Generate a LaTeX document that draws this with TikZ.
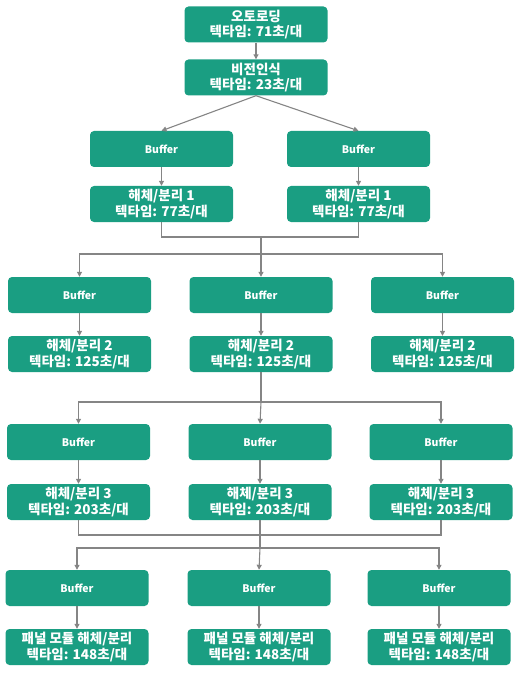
\documentclass[tikz,border=0pt]{standalone}
\usepackage{fontspec}
\setmainfont{Noto Sans CJK KR}
\usetikzlibrary{arrows.meta}
\definecolor{boxgreen}{HTML}{1A9E82}
\definecolor{linegray}{HTML}{858585}

\begin{document}
\begin{tikzpicture}[x=1pt,y=-1pt]

    \tikzset{stepbox/.style={fill=boxgreen,rounded corners=4pt,minimum width=143pt,minimum height=36pt,inner sep=0pt,text=white,align=center,font=\bfseries\fontsize{13.5}{15.5}\selectfont}}
    \tikzset{bufbox/.style={stepbox,font=\bfseries\fontsize{10.5}{12}\selectfont}}
    \useasboundingbox (0,0) rectangle (527,676);

    \node[stepbox] (load) at (256, 24.5) {오토로딩\\텍타임: 71초/대};
    \node[stepbox] (vision) at (256, 77.5) {비전인식\\텍타임: 23초/대};

    \node[bufbox] (b1a) at (161.5, 149) {Buffer};
    \node[bufbox] (b1b) at (358.5, 149) {Buffer};
    \node[stepbox] (d1a) at (161.5, 204) {해체/분리 1\\텍타임: 77초/대};
    \node[stepbox] (d1b) at (358.5, 204) {해체/분리 1\\텍타임: 77초/대};

    \node[bufbox] (b2a) at ( 79.5, 295) {Buffer};
    \node[bufbox] (b2b) at (261, 295) {Buffer};
    \node[bufbox] (b2c) at (442.5, 295) {Buffer};
    \node[stepbox] (d2a) at ( 79.5, 354) {해체/분리 2\\텍타임: 125초/대};
    \node[stepbox] (d2b) at (261, 354) {해체/분리 2\\텍타임: 125초/대};
    \node[stepbox] (d2c) at (442.5, 354) {해체/분리 2\\텍타임: 125초/대};

    \node[bufbox] (b3a) at ( 78.5, 442) {Buffer};
    \node[bufbox] (b3b) at (260, 442) {Buffer};
    \node[bufbox] (b3c) at (441, 442) {Buffer};
    \node[stepbox] (d3a) at ( 78.5, 502) {해체/분리 3\\텍타임: 203초/대};
    \node[stepbox] (d3b) at (260, 502) {해체/분리 3\\텍타임: 203초/대};
    \node[stepbox] (d3c) at (441, 502) {해체/분리 3\\텍타임: 203초/대};

    \node[bufbox] (b4a) at ( 77, 588) {Buffer};
    \node[bufbox] (b4b) at (259, 588) {Buffer};
    \node[bufbox] (b4c) at (439, 588) {Buffer};
    \node[stepbox] (d4a) at ( 77, 647) {패널 모듈 해체/분리\\텍타임: 148초/대};
    \node[stepbox] (d4b) at (259, 647) {패널 모듈 해체/분리\\텍타임: 148초/대};
    \node[stepbox] (d4c) at (439, 647) {패널 모듈 해체/분리\\텍타임: 148초/대};

    % Nodos artificiales.
    \coordinate (j1) at (261, 237);
    \coordinate (s1) at (261, 254);
    \coordinate (s2) at (261, 402);
    \coordinate (j3) at (260, 535);
    \coordinate (s3) at (260, 548);

    \begin{scope}[every path/.style={draw=linegray,line width=1.1pt}]
        \draw[-{Triangle[width=5pt,length=5pt]}] (load) -- (vision);
        \draw[-{Triangle[width=5pt,length=5pt]}] (vision.south) -- (b1a.north);
        \draw[-{Triangle[width=5pt,length=5pt]}] (vision.south) -- (b1b.north);
        \draw[-{Triangle[width=5pt,length=5pt]}] (b1a) -- (d1a);
        \draw[-{Triangle[width=5pt,length=5pt]}] (b1b) -- (d1b);

        \draw (d1a.south) |- (j1);
        \draw (d1b.south) |- (j1);
        \draw (j1) -- (s1);
        \draw[-{Triangle[width=5pt,length=5pt]}] (s1) -| (b2a.north);
        \draw[-{Triangle[width=5pt,length=5pt]}] (s1) -- (b2b.north);
        \draw[-{Triangle[width=5pt,length=5pt]}] (s1) -| (b2c.north);
        \draw[-{Triangle[width=5pt,length=5pt]}] (b2a) -- (d2a);
        \draw[-{Triangle[width=5pt,length=5pt]}] (b2b) -- (d2b);
        \draw[-{Triangle[width=5pt,length=5pt]}] (b2c) -- (d2c);

        \draw (d2b.south) -- (s2);
        \draw[-{Triangle[width=5pt,length=5pt]}] (s2) -| (b3a.north);
        \draw[-{Triangle[width=5pt,length=5pt]}] (s2) -- (b3b.north);
        \draw[-{Triangle[width=5pt,length=5pt]}] (s2) -| (b3c.north);
        \draw[-{Triangle[width=5pt,length=5pt]}] (b3a) -- (d3a);
        \draw[-{Triangle[width=5pt,length=5pt]}] (b3b) -- (d3b);
        \draw[-{Triangle[width=5pt,length=5pt]}] (b3c) -- (d3c);

        \draw (d3a.south) |- (j3);
        \draw (d3c.south) |- (j3);
        \draw (d3b.south) -- (s3);
        \draw[-{Triangle[width=5pt,length=5pt]}] (s3) -| (b4a.north);
        \draw[-{Triangle[width=5pt,length=5pt]}] (s3) -- (b4b.north);
        \draw[-{Triangle[width=5pt,length=5pt]}] (s3) -| (b4c.north);
        \draw[-{Triangle[width=5pt,length=5pt]}] (b4a) -- (d4a);
        \draw[-{Triangle[width=5pt,length=5pt]}] (b4b) -- (d4b);
        \draw[-{Triangle[width=5pt,length=5pt]}] (b4c) -- (d4c);
    \end{scope}

\end{tikzpicture}
\end{document}
